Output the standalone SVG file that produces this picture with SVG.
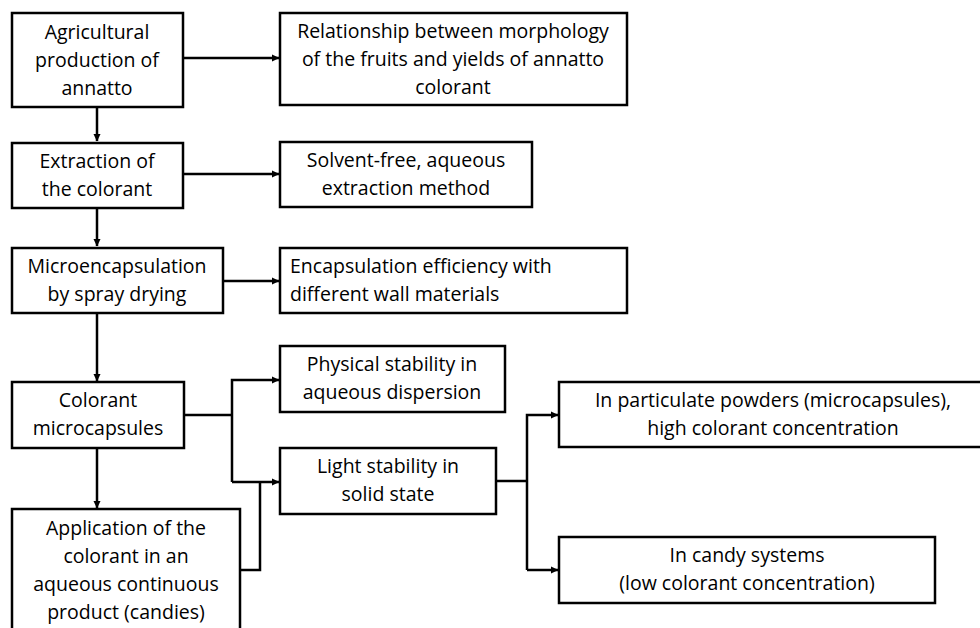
<svg xmlns="http://www.w3.org/2000/svg" width="980" height="628" viewBox="0 0 980 628">
<defs>
<marker id="arr" markerWidth="8" markerHeight="8" refX="7" refY="4" orient="auto" markerUnits="userSpaceOnUse">
<path d="M0,0.5 L7.5,4 L0,7.5 Z" fill="#000"/>
</marker>
<style>
.box{fill:#fff;stroke:#000;stroke-width:2.5}
.t{font-family:"Open Sans","Liberation Sans",sans-serif;font-size:19.5px;fill:#000;text-anchor:middle}
.l{text-anchor:start}
.c{fill:none;stroke:#000;stroke-width:2.5}
.a{marker-end:url(#arr)}
</style>
</defs>
<rect width="980" height="628" fill="#fff"/>
<g id="connectors">
<line class="c a" x1="183" y1="58" x2="279" y2="58"/>
<line class="c a" x1="97" y1="107" x2="97" y2="141"/>
<line class="c a" x1="183" y1="174" x2="279" y2="174"/>
<line class="c a" x1="97" y1="208" x2="97" y2="246"/>
<line class="c a" x1="222" y1="281" x2="279" y2="281"/>
<line class="c a" x1="97" y1="313" x2="97" y2="381"/>
<polyline class="c" points="184,415 232,415"/>
<polyline class="c a" points="232,482 232,380 279,380"/>
<polyline class="c a" points="232,482 279,482"/>
<line class="c a" x1="97" y1="448" x2="97" y2="508"/>
<polyline class="c" points="240,570 260,570 260,482"/>
<polyline class="c" points="496,481 527,481"/>
<polyline class="c a" points="527,570 527,415 558,415"/>
<polyline class="c a" points="527,570 558,570"/>
</g>
<g id="n1"><rect class="box" x="12" y="13" width="171" height="94"/>
<text class="t" x="97" y="39">Agricultural</text><text class="t" x="97" y="67">production of</text><text class="t" x="97" y="95">annatto</text></g>
<g id="n2"><rect class="box" x="280" y="13" width="347" height="92"/>
<text class="t" x="453" y="38">Relationship between morphology</text><text class="t" x="453" y="66">of the fruits and yields of annatto</text><text class="t" x="453" y="94">colorant</text></g>
<g id="n3"><rect class="box" x="12" y="143" width="171" height="65"/>
<text class="t" x="97" y="168">Extraction of</text><text class="t" x="97" y="196">the colorant</text></g>
<g id="n4"><rect class="box" x="280" y="142" width="252" height="65"/>
<text class="t" x="406" y="167">Solvent-free, aqueous</text><text class="t" x="406" y="195">extraction method</text></g>
<g id="n5"><rect class="box" x="12" y="248" width="211" height="65"/>
<text class="t" x="117" y="273">Microencapsulation</text><text class="t" x="117" y="301">by spray drying</text></g>
<g id="n6"><rect class="box" x="280" y="248" width="347" height="65"/>
<text class="t l" x="290" y="273">Encapsulation efficiency with</text><text class="t l" x="290" y="301">different wall materials</text></g>
<g id="n7"><rect class="box" x="12" y="382" width="172" height="66"/>
<text class="t" x="98" y="407">Colorant</text><text class="t" x="98" y="435">microcapsules</text></g>
<g id="n8"><rect class="box" x="280" y="346" width="225" height="66"/>
<text class="t" x="392" y="371">Physical stability in</text><text class="t" x="392" y="399">aqueous dispersion</text></g>
<g id="n9"><rect class="box" x="280" y="448" width="216" height="66"/>
<text class="t" x="388" y="473">Light stability in</text><text class="t" x="388" y="501">solid state</text></g>
<g id="n10"><rect class="box" x="12" y="509" width="228" height="125"/>
<text class="t" x="126" y="535">Application of the</text><text class="t" x="126" y="563">colorant in an</text><text class="t" x="126" y="591">aqueous continuous</text><text class="t" x="126" y="619">product (candies)</text></g>
<g id="n11"><rect class="box" x="559" y="382" width="430" height="65"/>
<text class="t" x="773" y="407">In particulate powders (microcapsules),</text><text class="t" x="773" y="435">high colorant concentration</text></g>
<g id="n12"><rect class="box" x="559" y="537" width="376" height="66"/>
<text class="t" x="747" y="562">In candy systems</text><text class="t" x="747" y="590">(low colorant concentration)</text></g>
</svg>
